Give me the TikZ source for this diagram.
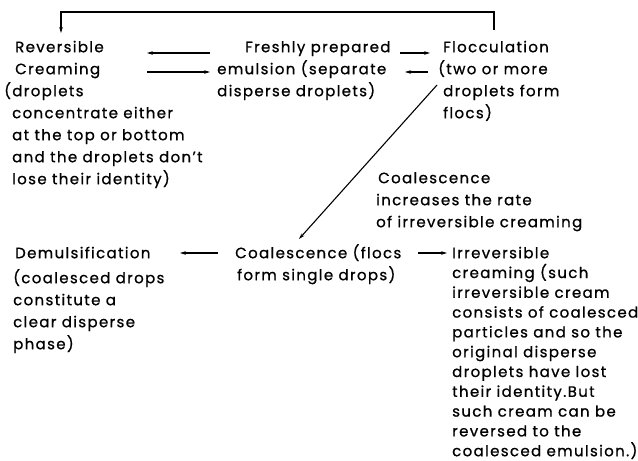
\documentclass[tikz,border=0pt]{standalone}
\usepackage{fontspec}
\setmainfont{Poppins}[LetterSpace=9, FakeBold=0.8]
\usetikzlibrary{arrows.meta}
\newcommand\topstrutx{\rule{0pt}{16pt}}
\tikzset{
  txt/.style={anchor=north west, inner sep=0pt, align=left, font=\fontsize{15}{22}\selectfont},
  arr/.style={line width=1.1pt, -{Stealth[length=6pt,width=3.6pt]}},
  ln/.style={line width=1.1pt}
}
\begin{document}
\begin{tikzpicture}[x=1pt,y=-1pt]
\useasboundingbox (0,0) rectangle (638,461);
% text blocks (north = first baseline - 16)
\node[txt] (rev) at (12,36) {\topstrutx\hspace*{3pt}Reversible\\ \hspace*{3pt}Creaming\\ \hspace*{-8pt}(droplets\\ concentrate either\\ at the top or bottom\\ and the droplets don\char"27 t\\ lose their identity)};
\node[txt] (fresh) at (217,36) {\topstrutx\hspace*{28pt}Freshly prepared\\ emulsion (separate\\ disperse droplets)};
\node[txt] (floc) at (443,36) {\topstrutx Flocculation\\ \hspace*{-5pt}(two or more\\ droplets form\\ flocs)};
\node[txt] (note) at (376,167) {\topstrutx\hspace*{2pt}Coalescence\\ increases the rate\\ of irreversible creaming};
\node[txt] (demul) at (13,242) {\topstrutx\hspace*{2pt}Demulsification\\[3pt] (coalesced drops\\ constitute a\\ clear disperse\\ phase)};
\node[txt] (coal) at (235,242) {\topstrutx Coalescence (flocs\\ \hspace*{2pt}form single drops)};
\node[txt, font=\fontsize{15}{19.8}\selectfont] (irr) at (452,242) {\topstrutx Irreversible\\ creaming (such\\ irreversible cream\\ consists of coalesced\\ particles and so the\\ original disperse\\ droplets have lost\\ their identity.But\\ such cream can be\\ reversed to the\\ coalesced emulsion.)};
% connector end points
\coordinate (revA) at (147,53);
\coordinate (freshA) at (210,53);
\coordinate (revB) at (147,72);
\coordinate (freshB) at (210,72);
\coordinate (freshC) at (400,53);
\coordinate (flocC) at (430,53);
\coordinate (freshD) at (405,72);
\coordinate (flocD) at (428,72);
\coordinate (flocE) at (437,85);
\coordinate (coalE) at (299,239);
\coordinate (coalF) at (218,253);
\coordinate (demulF) at (180,253);
\coordinate (coalG) at (418,253);
\coordinate (irrG) at (447,253);
\coordinate (flocTop) at (494,30);
\coordinate (revTop) at (61,33);
% connectors
\draw[arr] (freshA) -- (revA);
\draw[arr] (revB) -- (freshB);
\draw[arr] (freshC) -- (flocC);
\draw[arr] (flocD) -- (freshD);
\draw[arr] (flocE) -- (coalE);
\draw[arr] (coalF) -- (demulF);
\draw[arr] (coalG) -- (irrG);
\draw[arr] (flocTop) |- (61,12) -- (revTop);
\end{tikzpicture}
\end{document}
